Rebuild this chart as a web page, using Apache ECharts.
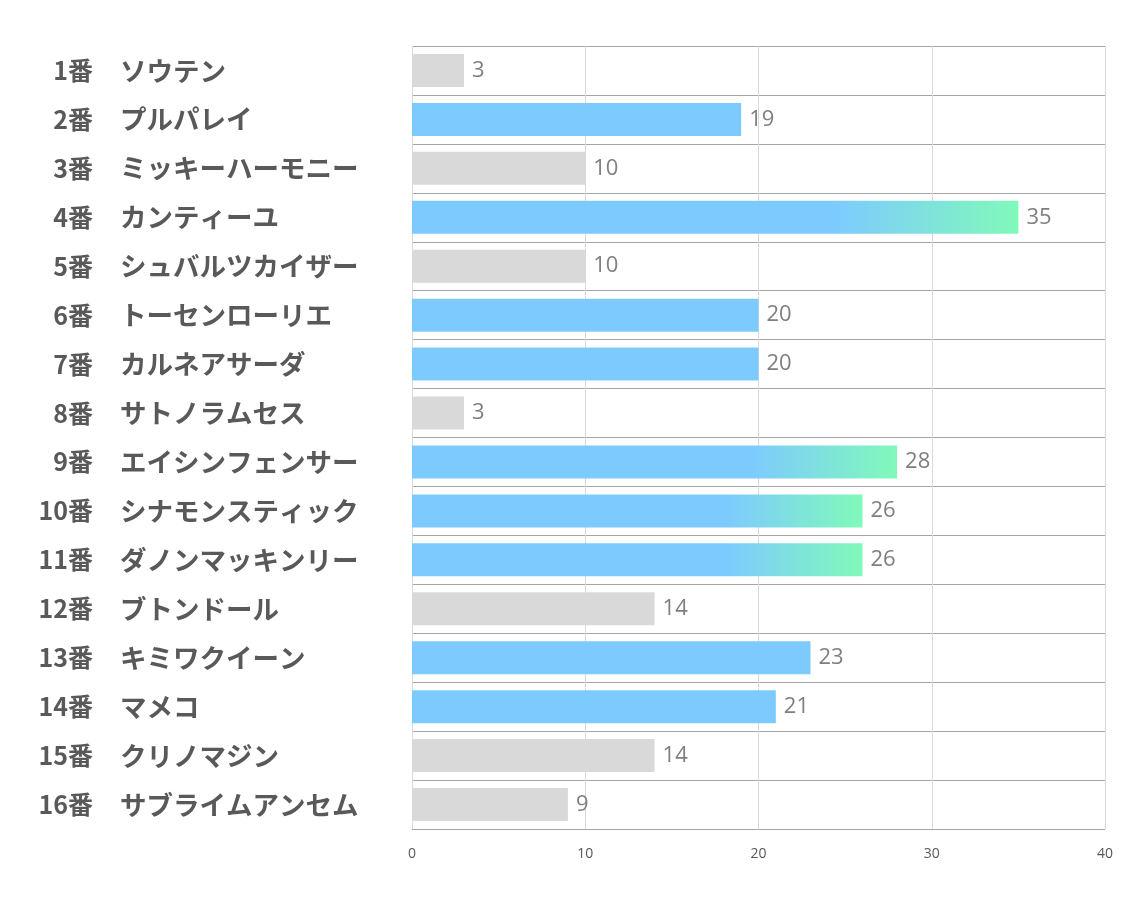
<!DOCTYPE html>
<html>
<head>
<meta charset="utf-8">
<script src="https://cdn.jsdelivr.net/npm/echarts@6/dist/echarts.min.js"></script>
<style>
html,body{margin:0;padding:0;background:#fff;}
#main{width:1134px;height:907px;}
</style>
</head>
<body>
<div id="main"></div>
<script>
const numbers = ['1番','2番','3番','4番','5番','6番','7番','8番','9番','10番','11番','12番','13番','14番','15番','16番'];
const names = ['ソウテン','プルパレイ','ミッキーハーモニー','カンティーユ','シュバルツカイザー','トーセンローリエ','カルネアサーダ','サトノラムセス','エイシンフェンサー','シナモンスティック','ダノンマッキンリー','ブトンドール','キミワクイーン','マメコ','クリノマジン','サブライムアンセム'];
const values = [3,19,10,35,10,20,20,3,28,26,26,14,23,21,14,9];
const xTicks = [0,10,20,30,40];

const GRAY = '#d9d9d9', BLUE = '#7dcbfe', GREEN = '#80f9ba';
function barColor(v){
  if (v <= 14) return GRAY;
  if (v >= 26) return new echarts.graphic.LinearGradient(0,0,1,0,[
    {offset:0,color:BLUE},{offset:0.7,color:BLUE},{offset:1,color:GREEN}]);
  return BLUE;
}
const labelFont = {fontWeight:'bold',color:'#595959',fontFamily:'"Noto Sans CJK JP",sans-serif'};

const chart = echarts.init(document.getElementById('main'));
chart.setOption({
  animation:false,
  grid:{left:412,right:29,top:46,bottom:78,containLabel:false},
  xAxis:{
    type:'value',min:xTicks[0],max:xTicks[xTicks.length-1],interval:xTicks[1]-xTicks[0],
    axisLine:{show:false},axisTick:{show:false},
    splitLine:{show:true,lineStyle:{color:'#d9d9d9',width:1}},
    axisLabel:{color:'#595959',fontSize:14,margin:18,fontFamily:'"Open Sans","Noto Sans",sans-serif'}
  },
  yAxis:[{
    type:'category',inverse:true,data:numbers,position:'left',
    axisLine:{show:false},axisTick:{show:false},
    splitLine:{show:true,lineStyle:{color:'#a6a6a6',width:1}},
    axisLabel:Object.assign({margin:319,align:'right',fontSize:25},labelFont)
  },{
    type:'category',inverse:true,data:names,position:'left',offset:0,
    axisLine:{show:false},axisTick:{show:false},splitLine:{show:false},
    axisLabel:Object.assign({margin:292,align:'left',fontSize:26.5},labelFont)
  }],
  series:[{
    type:'bar',barWidth:33,yAxisIndex:0,
    data:values.map(v=>({value:v,itemStyle:{color:barColor(v)}})),
    label:{show:true,position:'right',distance:8,color:'#7f7f7f',fontSize:22,fontFamily:'"Open Sans","Noto Sans",sans-serif'}
  }]
});
</script>
</body>
</html>
